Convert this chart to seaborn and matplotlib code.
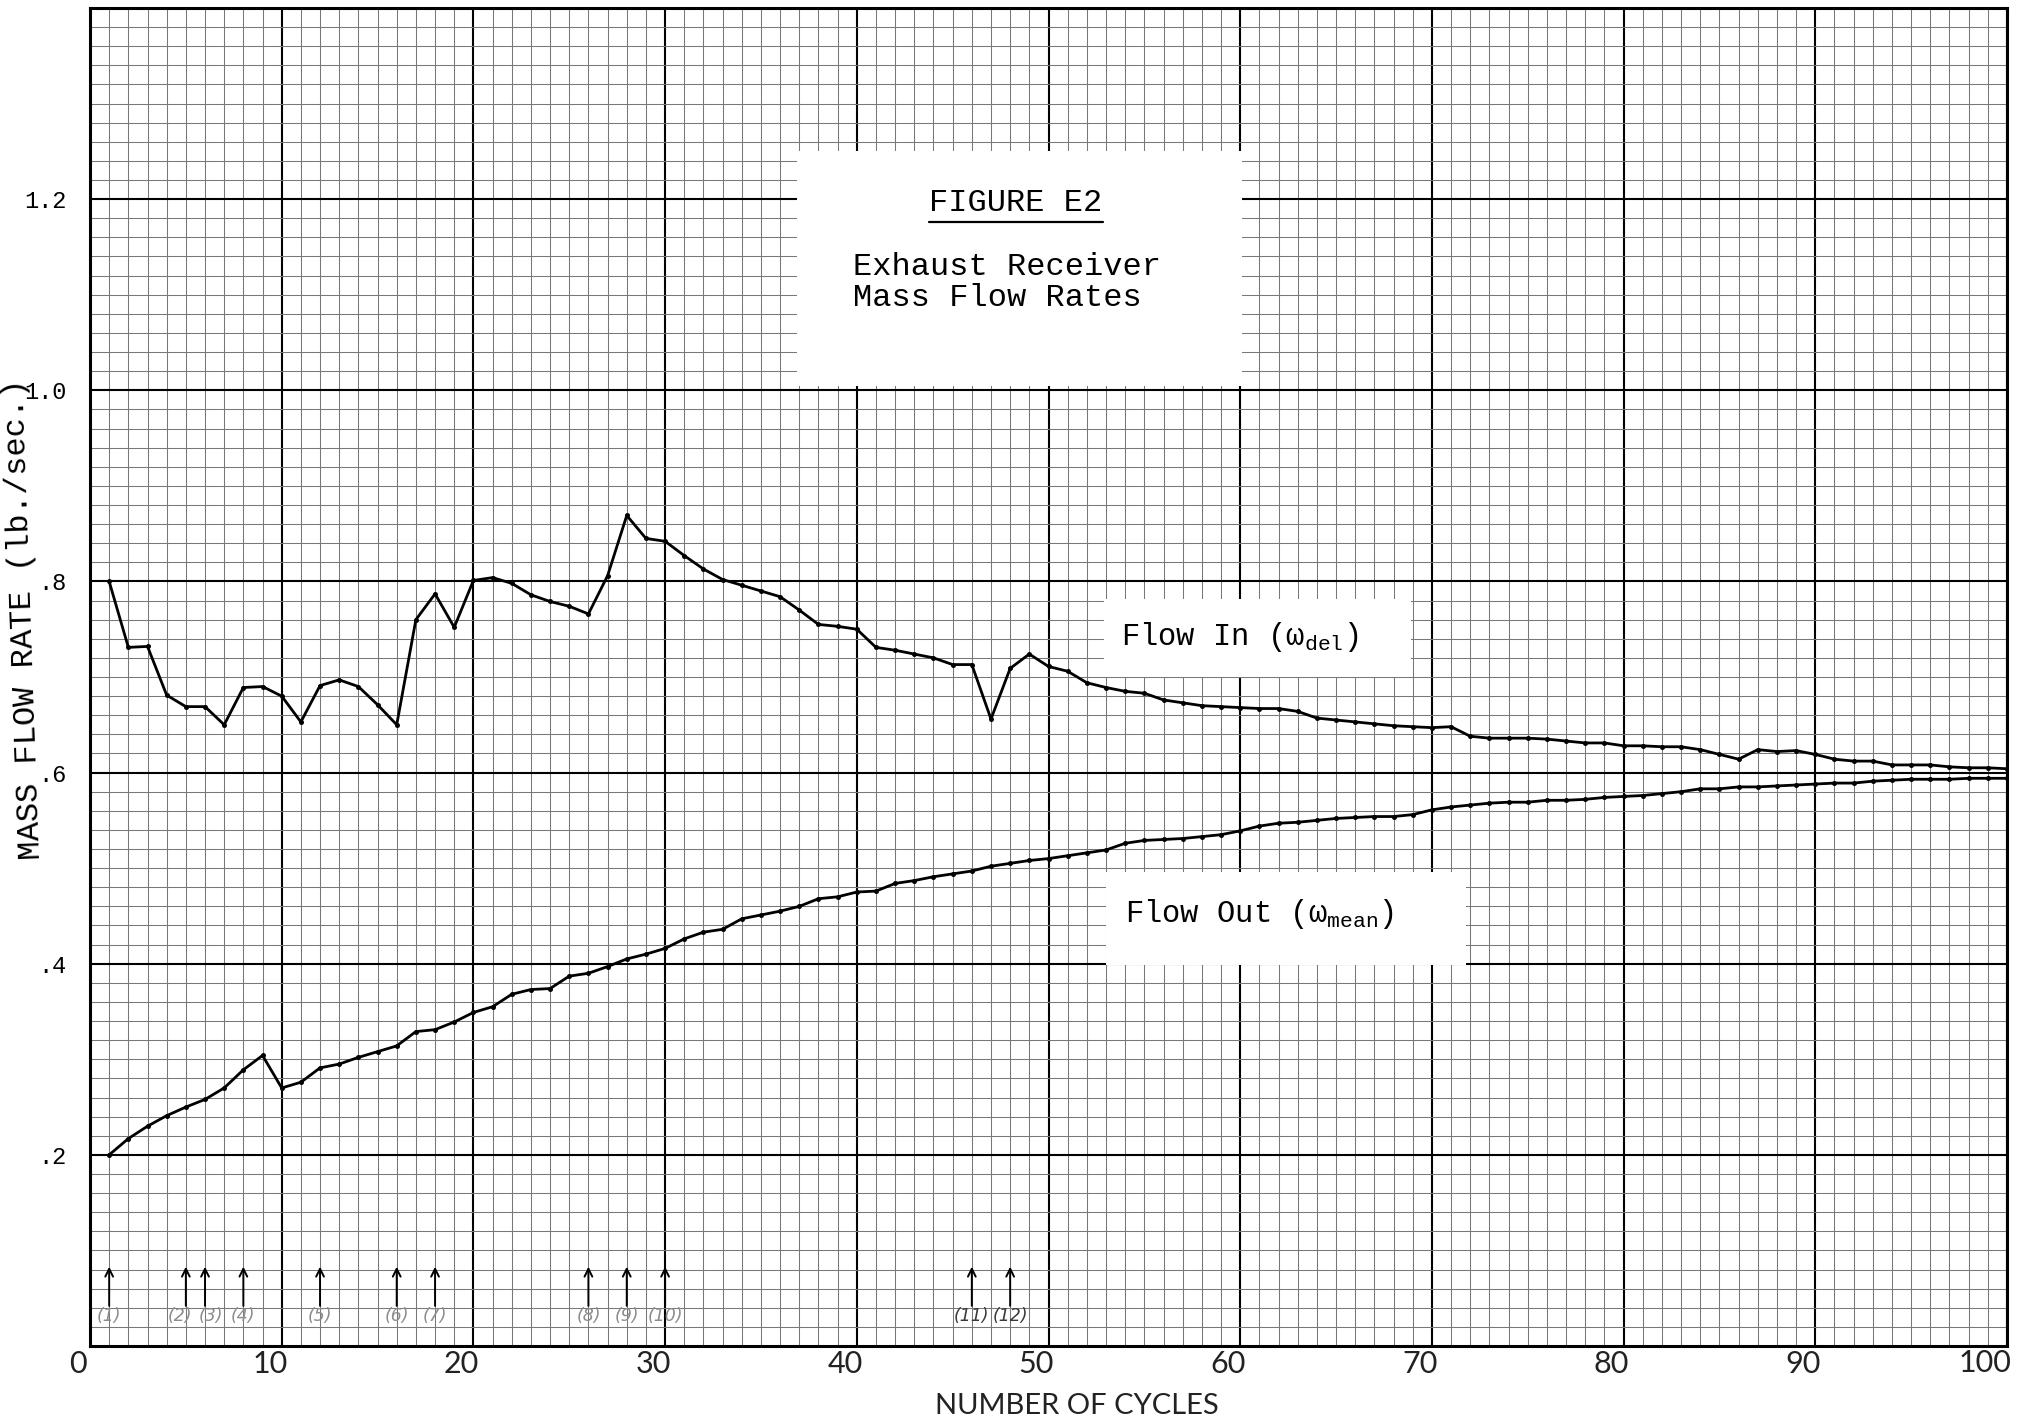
import matplotlib
matplotlib.use("Agg")
import matplotlib.pyplot as plt
import matplotlib.transforms as mtransforms
from matplotlib.patches import Rectangle
from matplotlib.ticker import MultipleLocator, FixedLocator, FixedFormatter
import pandas as pd
import seaborn as sns

# ---- data -------------------------------------------------------------
cycles = list(range(1, 101))

flow_in = [
    0.800, 0.731, 0.732, 0.681, 0.669, 0.669, 0.650, 0.689, 0.690, 0.680,
    0.653, 0.691, 0.697, 0.690, 0.671, 0.650, 0.760, 0.787, 0.752, 0.801,
    0.804, 0.798, 0.786, 0.779, 0.774, 0.766, 0.806, 0.869, 0.845, 0.842,
    0.827, 0.813, 0.802, 0.796, 0.790, 0.784, 0.770, 0.755, 0.753, 0.750,
    0.731, 0.728, 0.724, 0.720, 0.713, 0.713, 0.656, 0.709, 0.724, 0.711,
    0.706, 0.694, 0.689, 0.685, 0.683, 0.676, 0.673, 0.670, 0.669, 0.668,
    0.667, 0.667, 0.664, 0.657, 0.655, 0.653, 0.651, 0.649, 0.648, 0.647,
    0.648, 0.638, 0.636, 0.636, 0.636, 0.635, 0.633, 0.631, 0.631, 0.628,
    0.628, 0.627, 0.627, 0.624, 0.619, 0.614, 0.624, 0.622, 0.623, 0.619,
    0.614, 0.612, 0.612, 0.608, 0.608, 0.608, 0.606, 0.605, 0.605, 0.604,
]

flow_out = [
    0.200, 0.217, 0.230, 0.241, 0.250, 0.258, 0.270, 0.289, 0.304, 0.270,
    0.276, 0.291, 0.295, 0.302, 0.308, 0.314, 0.329, 0.331, 0.339, 0.349,
    0.355, 0.368, 0.373, 0.374, 0.387, 0.390, 0.397, 0.405, 0.410, 0.416,
    0.426, 0.433, 0.436, 0.447, 0.451, 0.455, 0.460, 0.468, 0.470, 0.475,
    0.476, 0.484, 0.487, 0.491, 0.494, 0.497, 0.502, 0.505, 0.508, 0.510,
    0.513, 0.516, 0.519, 0.526, 0.529, 0.530, 0.531, 0.533, 0.535, 0.539,
    0.544, 0.547, 0.548, 0.550, 0.552, 0.553, 0.554, 0.554, 0.556, 0.561,
    0.564, 0.566, 0.568, 0.569, 0.569, 0.571, 0.571, 0.572, 0.574, 0.575,
    0.576, 0.578, 0.580, 0.583, 0.583, 0.585, 0.585, 0.586, 0.587, 0.588,
    0.589, 0.589, 0.591, 0.592, 0.593, 0.593, 0.593, 0.594, 0.594, 0.594,
]

event_cycles = [1, 5, 6, 8, 12, 16, 18, 26, 28, 30, 46, 48]
event_labels = ["(1)", "(2)", "(3)", "(4)", "(5)", "(6)", "(7)", "(8)",
                "(9)", "(10)", "(11)", "(12)"]

x_ticks = [0, 10, 20, 30, 40, 50, 60, 70, 80, 90, 100]
x_tick_labels = ["0", "10", "20", "30", "40", "50", "60", "70", "80", "90", "100"]
y_ticks = [0.2, 0.4, 0.6, 0.8, 1.0, 1.2]
y_tick_labels = [".2", ".4", ".6", ".8", "1.0", "1.2"]

# ---- style ------------------------------------------------------------
sns.set_theme(style="white")
plt.rcParams["font.family"] = ["Liberation Mono", "DejaVu Sans"]
plt.rcParams["text.color"] = "black"
plt.rcParams["axes.labelcolor"] = "black"
plt.rcParams["xtick.color"] = "black"
plt.rcParams["ytick.color"] = "black"
plt.rcParams["mathtext.fontset"] = "custom"
plt.rcParams["mathtext.rm"] = "Liberation Mono"
plt.rcParams["mathtext.it"] = "Liberation Mono"
plt.rcParams["mathtext.default"] = "rm"

W, H = 2020, 1423
fig = plt.figure(figsize=(W / 100, H / 100), dpi=100)
fig.patch.set_facecolor("white")
ax = fig.add_axes([90 / W, 77 / H, 1917 / W, 1338 / H])

df = pd.DataFrame({
    "cycle": cycles + cycles,
    "rate": flow_in + flow_out,
    "series": ["in"] * len(cycles) + ["out"] * len(cycles),
})
sns.lineplot(data=df, x="cycle", y="rate", hue="series",
             palette={"in": "black", "out": "black"}, legend=False,
             linewidth=2.0, marker="o", markersize=3.6, markeredgewidth=0,
             ax=ax, zorder=5)

# ---- graph-paper grid -------------------------------------------------
ax.set_xlim(0, 100)
ax.set_ylim(0, 1.4)
ax.xaxis.set_major_locator(FixedLocator(x_ticks))
ax.xaxis.set_major_formatter(FixedFormatter(x_tick_labels))
ax.xaxis.set_minor_locator(MultipleLocator(1))
ax.yaxis.set_major_locator(FixedLocator(y_ticks))
ax.yaxis.set_major_formatter(FixedFormatter(y_tick_labels))
ax.yaxis.set_minor_locator(MultipleLocator(0.02))
ax.set_axisbelow(True)
ax.grid(which="major", color="black", linewidth=1.5)
ax.grid(which="minor", color="#787878", linewidth=0.75)
ax.tick_params(which="both", length=0)
ax.tick_params(axis="y", pad=17, labelsize=17, labelcolor="black")
ax.tick_params(axis="x", pad=3, labelsize=22, labelcolor="#222222")
for lab in ax.get_yticklabels():
    lab.set_fontfamily("Liberation Mono")
xlabels = ax.get_xticklabels()
for lab in xlabels:
    lab.set_fontfamily("Lato")
    lab.set_fontweight("normal")
    lab.set_transform(lab.get_transform() +
                      mtransforms.ScaledTranslation(-0.12, 0, fig.dpi_scale_trans))
# keep the last label inside the frame
xlabels[-1].set_horizontalalignment("right")
xlabels[-1].set_transform(ax.get_xaxis_transform(which="tick1") +
                          mtransforms.ScaledTranslation(0.04, -0.03, fig.dpi_scale_trans))
for sp in ax.spines.values():
    sp.set_visible(True)
    sp.set_color("black")
    sp.set_linewidth(2.2)

ax.set_xlabel("NUMBER OF CYCLES", fontfamily="Lato", fontweight="normal",
              fontsize=21, color="#222222")
ax.xaxis.set_label_coords(0.515, -0.035)
ylab = ax.set_ylabel("MASS FLOW RATE (lb./sec.)", fontfamily="Liberation Mono",
                     fontsize=23, color="black")
ylab.set_rotation(92)
ax.yaxis.set_label_coords(-0.027, 0.544)

# ---- pasted-on label panels ---------------------------------------------
panel_kw = dict(facecolor="white", edgecolor="none", zorder=3)
ax.add_patch(Rectangle((36.9, 1.005), 23.2, 0.245, **panel_kw))
ax.add_patch(Rectangle((52.9, 0.700), 16.0, 0.082, **panel_kw))
ax.add_patch(Rectangle((53.0, 0.399), 18.8, 0.097, **panel_kw))

title = ax.text(48.3, 1.196, "FIGURE E2", ha="center", va="center",
                fontsize=23, fontfamily="Liberation Mono", color="black", zorder=6)
ax.text(39.8, 1.129, "Exhaust Receiver", ha="left", va="center",
        fontsize=23, fontfamily="Liberation Mono", color="black", zorder=6)
ax.text(39.8, 1.097, "Mass Flow Rates", ha="left", va="center",
        fontsize=23, fontfamily="Liberation Mono", color="black", zorder=6)

ax.text(53.8, 0.733, r"Flow In ($\omega_{del}$)", ha="left", va="baseline",
        fontsize=22, fontfamily="Liberation Mono", color="black", zorder=6)
ax.text(54.0, 0.444, r"Flow Out ($\omega_{mean}$)", ha="left", va="baseline",
        fontsize=22, fontfamily="Liberation Mono", color="black", zorder=6)

# underline the figure title using its rendered extent
fig.canvas.draw()
bb = title.get_window_extent(renderer=fig.canvas.get_renderer())
inv = ax.transData.inverted()
(x0, y0), (x1, _) = inv.transform([(bb.x0, bb.y0), (bb.x1, bb.y0)])
ax.plot([x0, x1], [y0 - 0.004, y0 - 0.004], color="black", lw=1.6, zorder=6)

# ---- event markers along the bottom ----------------------------------
for i, (c, lab) in enumerate(zip(event_cycles, event_labels)):
    ax.annotate("", xy=(c, 0.083), xytext=(c, 0.042),
                arrowprops=dict(arrowstyle="->", lw=1.4, color="black",
                                mutation_scale=14, shrinkA=0, shrinkB=0),
                zorder=6)
    # spread labels of neighbouring events so they do not collide
    nudge = 0.0
    if i > 0 and c - event_cycles[i - 1] <= 1:
        nudge += 0.3
    if i < len(event_cycles) - 1 and event_cycles[i + 1] - c <= 1:
        nudge -= 0.3
    ax.text(c + nudge, 0.031, lab, ha="center", va="center", fontsize=12.5,
            fontstyle="italic", fontfamily="DejaVu Sans",
            color="#3a3a3a" if i >= 10 else "#8c8c8c", zorder=6)

fig.savefig("out.png", dpi=100, facecolor="white")
